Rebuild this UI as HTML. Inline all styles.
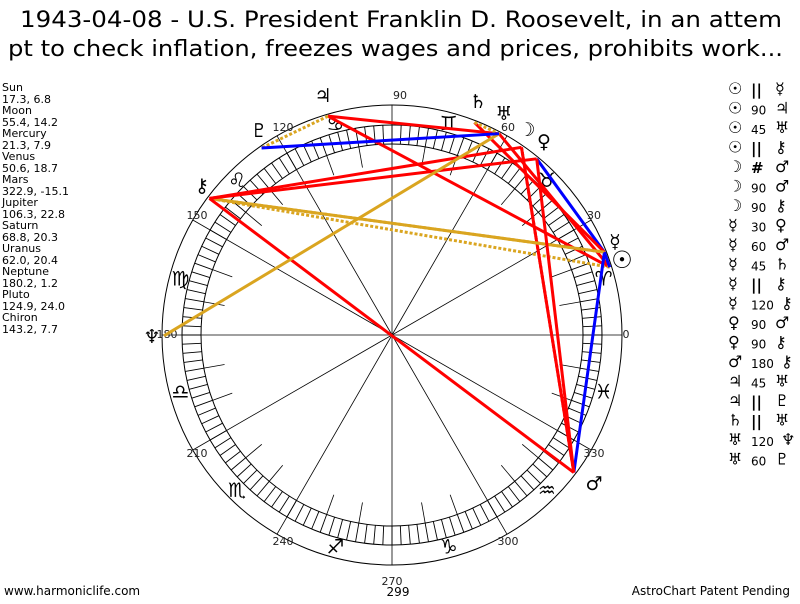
<!DOCTYPE html>
<html><head><meta charset="utf-8"><style>
body{margin:0;background:#fff;width:800px;height:600px;overflow:hidden;font-family:"DejaVu Sans","Liberation Sans",sans-serif}
</style></head><body>
<svg id="s" width="800" height="600" xmlns="http://www.w3.org/2000/svg" font-family="DejaVu Sans, Liberation Sans, sans-serif">
<text x="20" y="27" font-size="22" textLength="762" lengthAdjust="spacingAndGlyphs">1943-04-08 - U.S. President Franklin D. Roosevelt, in an attem</text>
<text x="8" y="56" font-size="22" textLength="775" lengthAdjust="spacingAndGlyphs">pt to check inflation, freezes wages and prices, prohibits work...</text>
<g font-size="11" fill="#000">
<text x="2" y="91">Sun</text><text x="2" y="103">17.3, 6.8</text>
<text x="2" y="114">Moon</text><text x="2" y="126">55.4, 14.2</text>
<text x="2" y="137">Mercury</text><text x="2" y="149">21.3, 7.9</text>
<text x="2" y="160">Venus</text><text x="2" y="172">50.6, 18.7</text>
<text x="2" y="183">Mars</text><text x="2" y="195">322.9, -15.1</text>
<text x="2" y="206">Jupiter</text><text x="2" y="218">106.3, 22.8</text>
<text x="2" y="229">Saturn</text><text x="2" y="241">68.8, 20.3</text>
<text x="2" y="252">Uranus</text><text x="2" y="264">62.0, 20.4</text>
<text x="2" y="275">Neptune</text><text x="2" y="287">180.2, 1.2</text>
<text x="2" y="298">Pluto</text><text x="2" y="310">124.9, 24.0</text>
<text x="2" y="321">Chiron</text><text x="2" y="333">143.2, 7.7</text>
</g>
<g font-size="12">
<text x="4" y="595">www.harmoniclife.com</text>
<text x="398" y="596" text-anchor="middle">299</text>
<text x="790" y="595" text-anchor="end">AstroChart Patent Pending</text>
</g>
<g id="chart"></g>
<g id="asp" font-size="14"></g>
</svg>
<script>
var cx=392,cy=335,R=230,ns="http://www.w3.org/2000/svg";
var g=document.getElementById("chart");
function el(t,a,p){var e=document.createElementNS(ns,t);for(var k in a)e.setAttribute(k,a[k]);(p||g).appendChild(e);return e;}
function pt(a,r){var t=a*Math.PI/180;return [cx+r*Math.cos(t),cy-r*Math.sin(t)];}
el("circle",{cx:cx,cy:cy,r:R,fill:"none",stroke:"#000","stroke-width":1});
el("circle",{cx:cx,cy:cy,r:210,fill:"none",stroke:"#000","stroke-width":1});
el("circle",{cx:cx,cy:cy,r:191,fill:"none",stroke:"#000","stroke-width":1});
for(var a=0;a<360;a+=2.5){var p=pt(a,191),q=pt(a,210);el("line",{x1:p[0],y1:p[1],x2:q[0],y2:q[1],stroke:"#000","stroke-width":0.9});}
for(var a=0;a<360;a+=30){var p=pt(a,R);el("line",{x1:cx,y1:cy,x2:p[0],y2:p[1],stroke:"#000","stroke-width":0.8});}
for(var a=0;a<360;a+=10){if(a%30==0)continue;var p=pt(a,170),q=pt(a,191);el("line",{x1:p[0],y1:p[1],x2:q[0],y2:q[1],stroke:"#000","stroke-width":0.8});}
var labs=[[0,626,338],[30,594,219],[60,508,131],[90,400,99],[120,283,131],[150,197,219],[180,167,338],[210,197,457],[240,283,545],[270,392,585],[300,508,545],[330,594,457]];
labs.forEach(function(l){var t=el("text",{x:l[1],y:l[2],"font-size":11,"text-anchor":"middle",fill:"#222"});t.textContent=l[0];});
var signs=["♈","♉","♊","♋","♌","♍","♎","♏","♐","♑","♒","♓"];
signs.forEach(function(s,i){var p=pt(15+30*i,219);var t=el("text",{x:p[0],y:p[1]+7,"font-size":20,"text-anchor":"middle"});t.textContent=s;});
var L={Su:17.3,Mo:55.4,Me:21.3,Ve:50.6,Ma:322.9,Ju:106.3,Sa:68.8,Ur:62.0,Ne:180.2,Pl:124.9,Ch:143.2};
var gl=[["♃",323,102],["♄",478,108],["♅",504,120],["☽",527,136],["♀",544,148],["☿",615,248],["☉",622,268],["♂",594,490],["♆",152,343],["⚷",202,192],["♇",259,137]];
gl.forEach(function(x){var t=el("text",{x:x[1],y:x[2],"font-size":x[0]=="☉"?24:19,"text-anchor":"middle"});t.textContent=x[0];});
var R2=228;
function ln(a,b,c,d){var p=pt(L[a],R2),q=pt(L[b],R2);var o={x1:p[0],y1:p[1],x2:q[0],y2:q[1],stroke:c,"stroke-width":3};if(d)o["stroke-dasharray"]="3,2";el("line",o);}
var red="#f00",blue="#00f",gold="#daa520";
ln("Su","Ju",red);ln("Su","Ur",red);ln("Su","Ch",gold,1);ln("Mo","Ma",red,1);ln("Mo","Ma",red);ln("Mo","Ch",red);
ln("Me","Ve",blue);ln("Me","Ma",blue);ln("Me","Sa",red);ln("Me","Ch",gold,1);ln("Me","Ch",gold);
ln("Ve","Ma",red);ln("Ve","Ch",red);ln("Ma","Ch",red);ln("Ju","Ur",red);ln("Ju","Pl",gold,1);ln("Sa","Ur",gold,1);
ln("Ur","Ne",gold);ln("Ur","Pl",blue);ln("Su","Me",blue);
var A=document.getElementById("asp");
var rows=[["☉","||","☿"],["☉","90","♃"],["☉","45","♅"],["☉","||","⚷"],["☽","#","♂"],["☽","90","♂"],["☽","90","⚷"],["☿","30","♀"],["☿","60","♂"],["☿","45","♄"],["☿","||","⚷"],["☿","120","⚷"],["♀","90","♂"],["♀","90","⚷"],["♂","180","⚷"],["♃","45","♅"],["♃","||","♇"],["♄","||","♅"],["♅","120","♆"],["♅","60","♇"]];
rows.forEach(function(r,i){var y=94+i*19.5;
var t=el("text",{x:728,y:y,"font-size":16,"font-weight":"bold"},A);t.textContent=r[0];
t=el("text",{x:751,y:y+1,"font-size":r[1]=="||"||r[1]=="#"?15:12,"font-weight":r[1]=="||"||r[1]=="#"?"bold":"normal"},A);t.textContent=r[1];
t=el("text",{x:r[1].length>2?781:775,y:y,"font-size":16},A);t.textContent=r[2];});
</script>
</body></html>
